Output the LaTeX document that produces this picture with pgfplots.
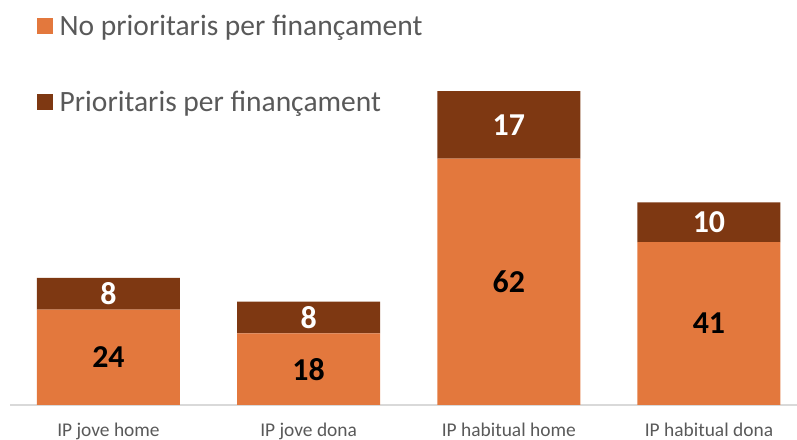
\documentclass[border=0pt]{standalone}
\usepackage{fontspec}
\setmainfont{Carlito}
\usepackage{pgfplots}
\pgfplotsset{compat=1.18}
\definecolor{cOr}{HTML}{E3783D}
\definecolor{cBr}{HTML}{7E3812}
\definecolor{cTx}{HTML}{595959}
\definecolor{cAx}{HTML}{D9D9D9}
\begin{document}
\begin{tikzpicture}[x=1bp,y=1bp]
\path[use as bounding box] (0,0) rectangle (797,440);
\begin{axis}[
  at={(10bp,35bp)}, anchor=south west,
  scale only axis, width=787bp, height=405bp,
  xmin=-0.492, xmax=3.44, ymin=0, ymax=101.9,
  ybar stacked, bar width=143bp,
  axis y line=none, axis x line*=bottom,
  axis line style={cAx, line width=1.3bp},
  xtick={0,1,2,3},
  xticklabels={IP jove home, IP jove dona, IP habitual home, IP habitual dona},
  major tick length=0pt,
  xticklabel style={font=\fontsize{19.5}{22}\selectfont, text=cTx, yshift=-14bp},
  clip=false,
  nodes near coords={\pgfmathprintnumber[assume math mode=true]{\pgfplotspointmeta}},
  every node near coord/.append style={anchor=center, font=\bfseries\fontsize{32}{34}\selectfont},
  legend style={at={(axis description cs:0.0343,0.968)}, anchor=north west, draw=none, fill=none,
    font=\fontsize{29.6}{34}\selectfont, text=cTx, row sep=50bp, inner sep=0pt,
    nodes={inner xsep=6.5bp}},
  legend cell align=left,
  legend image code/.code={\fill[#1] (0bp,-8bp) rectangle (16bp,8bp);},
]
\addplot[fill=cOr, draw=none, every node near coord/.append style={text=black}]
  coordinates {(0,24) (1,18) (2,62) (3,41)};
\addlegendentry{No prioritaris per finançament}
\addplot[fill=cBr, draw=none, every node near coord/.append style={text=white}]
  coordinates {(0,8) (1,8) (2,17) (3,10)};
\addlegendentry{Prioritaris per finançament}
\end{axis}
\end{tikzpicture}
\end{document}
